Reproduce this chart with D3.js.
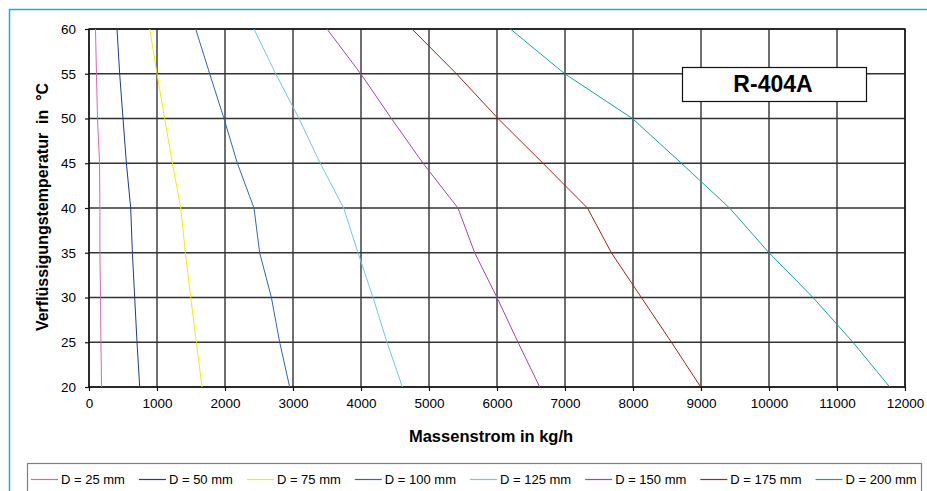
<!DOCTYPE html>
<html>
<head>
<meta charset="utf-8">
<script src="https://cdn.jsdelivr.net/npm/d3@7"></script>
<style>
  html, body { margin: 0; padding: 0; background: #fff; }
  svg { display: block; font-family: "Liberation Sans", Arial, sans-serif; }
</style>
</head>
<body>
<svg id="chart" width="927" height="491"></svg>
<script>
// Verflüssigungstemperatur (°C) – gemeinsame Stützstellen aller Kurven
const temps = [20, 25, 30, 35, 40, 45, 50, 55, 60];

// Massenstrom in kg/h je Rohrdurchmesser
const d25  = [185, 175, 170, 160, 160, 155, 125, 110, 95];
const d50  = [746, 706, 672, 638, 613, 550, 500, 451, 412];
const d75  = [1662, 1579, 1496, 1418, 1349, 1226, 1113, 1000, 893];
const d100 = [2951, 2804, 2682, 2510, 2426, 2182, 1985, 1775, 1569];
const d125 = [4609, 4382, 4177, 3956, 3745, 3400, 3088, 2746, 2426];
const d150 = [6628, 6309, 6000, 5672, 5426, 4912, 4447, 3996, 3500];
const d175 = [8996, 8565, 8123, 7682, 7330, 6676, 6015, 5403, 4750];
const d200 = [11775, 11235, 10647, 10000, 9420, 8712, 7991, 6996, 6197];

const seriesNames = ["D = 25 mm", "D = 50 mm", "D = 75 mm", "D = 100 mm",
                     "D = 125 mm", "D = 150 mm", "D = 175 mm", "D = 200 mm"];
const seriesValues = [d25, d50, d75, d100, d125, d150, d175, d200];
const seriesColors = ["#d866b8", "#1c3c8c", "#f2ee00", "#2e68b4",
                      "#6cc8e6", "#a544b0", "#a42424", "#17a2a2"];

const xTicks = d3.range(0, 12001, 1000);
const yTicks = d3.range(20, 61, 5);

const svg = d3.select("#chart");
const plot = { left: 89, right: 905, top: 29, bottom: 387 };

const x = d3.scaleLinear().domain([0, 12000]).range([plot.left, plot.right]);
const y = d3.scaleLinear().domain([20, 60]).range([plot.bottom, plot.top]);

// äußerer Rahmen (hellblau)
svg.append("rect")
  .attr("x", 9.5).attr("y", 9.5)
  .attr("width", 960).attr("height", 520)
  .attr("fill", "#fff")
  .attr("stroke", "#2aa6df")
  .attr("stroke-width", 1.5);

// Gitter
const grid = svg.append("g");
grid.selectAll("line.h").data(yTicks).join("line")
  .attr("x1", plot.left).attr("x2", plot.right)
  .attr("y1", d => y(d)).attr("y2", d => y(d))
  .attr("stroke", "#333").attr("stroke-width", 1.4);
grid.selectAll("line.v").data(xTicks).join("line")
  .attr("y1", plot.top).attr("y2", plot.bottom)
  .attr("x1", d => x(d)).attr("x2", d => x(d))
  .attr("stroke", "#333").attr("stroke-width", 1.4);

svg.append("rect")
  .attr("x", plot.left).attr("y", plot.top)
  .attr("width", plot.right - plot.left).attr("height", plot.bottom - plot.top)
  .attr("fill", "none").attr("stroke", "#111").attr("stroke-width", 1.4);

// Achsen
const xAxis = svg.append("g")
  .attr("transform", `translate(0,${plot.bottom})`)
  .call(d3.axisBottom(x).tickValues(xTicks).tickSize(4).tickPadding(7).tickFormat(d3.format("d")));
const yAxis = svg.append("g")
  .attr("transform", `translate(${plot.left},0)`)
  .call(d3.axisLeft(y).tickValues(yTicks).tickSize(4).tickPadding(9).tickFormat(d3.format("d")));

[xAxis, yAxis].forEach(ax => {
  ax.select(".domain").remove();
  ax.selectAll(".tick line").attr("stroke", "#111").attr("stroke-width", 1.2);
  ax.selectAll("text")
    .attr("fill", "#000")
    .style("font-size", "13.5px")
    .style("font-family", "'Liberation Sans', Arial, sans-serif");
});

// Kurven
const line = d3.line()
  .x(d => x(d[0]))
  .y(d => y(d[1]));

seriesValues.forEach((vals, i) => {
  svg.append("path")
    .datum(vals.map((v, k) => [v, temps[k]]))
    .attr("d", line)
    .attr("fill", "none")
    .attr("stroke", seriesColors[i])
    .attr("stroke-width", 1);
});

// Beschriftung R-404A
svg.append("rect")
  .attr("x", 682.5).attr("y", 67.5)
  .attr("width", 184).attr("height", 34)
  .attr("fill", "#fff").attr("stroke", "#111").attr("stroke-width", 1.2);
svg.append("text")
  .attr("x", 773).attr("y", 91.5)
  .attr("text-anchor", "middle")
  .style("font-size", "23px").style("font-weight", "bold")
  .text("R-404A");

// Achsentitel
svg.append("text")
  .attr("x", 491).attr("y", 442)
  .attr("text-anchor", "middle")
  .style("font-size", "16.5px").style("font-weight", "bold")
  .text("Massenstrom in kg/h");

svg.append("text")
  .attr("transform", "translate(48,207) rotate(-90)")
  .attr("text-anchor", "middle")
  .style("font-size", "16px").style("font-weight", "bold")
  .attr("xml:space", "preserve")
  .text("Verflüssigungstemperatur  in  °C");

// Legende
svg.append("rect")
  .attr("x", 27.5).attr("y", 463.5)
  .attr("width", 894).attr("height", 40)
  .attr("fill", "#fff").attr("stroke", "#808080").attr("stroke-width", 1.2);

const legend = svg.append("g");
let lx = 31;
seriesNames.forEach((name, i) => {
  legend.append("line")
    .attr("x1", lx).attr("x2", lx + 27)
    .attr("y1", 479.5).attr("y2", 479.5)
    .attr("stroke", seriesColors[i]).attr("stroke-width", 1.2);
  const t = legend.append("text")
    .attr("x", lx + 30).attr("y", 484)
    .style("font-size", "13px")
    .text(name);
  lx += 30 + t.node().getComputedTextLength() + 14;
});
</script>
</body>
</html>
